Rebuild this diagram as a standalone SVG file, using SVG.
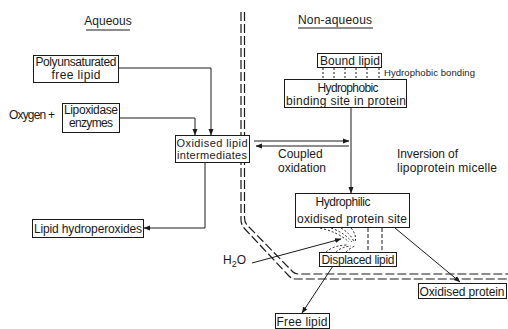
<svg xmlns="http://www.w3.org/2000/svg" width="508" height="329" viewBox="0 0 508 329">
<defs>
<marker id="ah" markerUnits="userSpaceOnUse" markerWidth="7" markerHeight="6" refX="6" refY="3" orient="auto">
<path d="M0,0.5 L6.5,3 L0,5.5 z" fill="#1a1a1a"/>
</marker>
<style>
text{font-family:"Liberation Sans",Arial,sans-serif;font-size:12px;fill:#1a1a1a}
.s{font-size:9.5px}
.t{font-size:11px}
.c{text-anchor:middle}
.box{fill:#fff;stroke:#1a1a1a;stroke-width:1}
.ln{fill:none;stroke:#1a1a1a;stroke-width:1}
.ar{fill:none;stroke:#1a1a1a;stroke-width:1;marker-end:url(#ah)}
.dd{fill:none;stroke:#1a1a1a;stroke-width:1.2;stroke-dasharray:9 3}
.dt{fill:none;stroke:#1a1a1a;stroke-width:1;stroke-dasharray:2 2}
.dh{fill:none;stroke:#1a1a1a;stroke-width:1;stroke-dasharray:4 2}
</style>
</defs>
<rect width="508" height="329" fill="#fff"/>

<g id="interface">
<path class="dd" d="M241,12 L241,220 Q241,224 244,228 L289,276 Q292,279 296,279 L508,279"/>
<path class="dd" d="M244.5,12 L244.5,218 Q244.5,222 247,225 L293,272 Q295,274 299,274 L508,274"/>
</g>

<g id="headings">
<text x="108" y="25" class="c">Aqueous</text>
<line class="ln" x1="86" y1="30" x2="130" y2="30"/>
<text x="335" y="24" class="c" textLength="74">Non-aqueous</text>
<line class="ln" x1="298" y1="28" x2="373" y2="28"/>
</g>

<g id="connectors">
<path class="ar" d="M119,68 L211,68 L211,135"/>
<path class="ar" d="M120,118 L195,118 L195,135"/>
<path class="ar" d="M205,162 L205,228 L144,228"/>
<path class="ar" d="M254,141 L349,141"/>
<path class="ar" d="M349,146 L256,146"/>
<path class="ar" d="M351,108 L351,193"/>
<path class="ar" d="M252,263 L341,239"/>
<path class="ar" d="M395,228 L460,282"/>
<path class="ar" d="M333,266 L302,313"/>
<g id="hydrophobic-bonding">
<path class="dt" d="M323,68 V79 M334,68 V79 M345,68 V79 M356,68 V79 M367,68 V79 M379,68 V79"/>
</g>
<g id="displacement">
<path class="dh" d="M368,228 V252 M382,228 V252"/>
<path class="dt" d="M320,228 Q338,232 349,242 M331,228 Q345,233 352,242 M341,228 Q351,234 354,242 M351,228 Q357,235 355,242"/>
<path class="dt" d="M326,252 Q334,245 348,245 M336,252 Q341,247 351,246 M346,252 Q350,248 355,246"/>
</g>
</g>

<g id="polyunsaturated">
<rect class="box" x="33.5" y="55.5" width="85" height="27"/>
<text x="76" y="66" class="c" textLength="81">Polyunsaturated</text>
<text x="76" y="79" class="c" textLength="49">free lipid</text>
</g>

<g id="oxygen">
<text x="9" y="119" textLength="46">Oxygen +</text>
</g>

<g id="lipoxidase">
<rect class="box" x="62.5" y="103.5" width="57" height="29"/>
<text x="91" y="114" class="c" textLength="54">Lipoxidase</text>
<text x="91" y="127" class="c" textLength="44">enzymes</text>
</g>

<g id="oxidised-lipid">
<rect class="box" x="175.5" y="135.5" width="74" height="27"/>
<text x="212" y="146.5" class="c t" textLength="71">Oxidised lipid</text>
<text x="212" y="159" class="c t" textLength="70">intermediates</text>
</g>

<g id="lipid-hydroperoxides">
<rect class="box" x="32.5" y="219.5" width="111" height="18"/>
<text x="88" y="233" class="c" textLength="108">Lipid hydroperoxides</text>
</g>

<g id="coupled-oxidation">
<text x="278" y="158">Coupled</text>
<text x="278" y="172" textLength="48">oxidation</text>
</g>

<g id="inversion">
<text x="397" y="158" textLength="61">Inversion of</text>
<text x="397" y="172" textLength="100">lipoprotein micelle</text>
</g>

<g id="bound-lipid">
<rect class="box" x="317.5" y="53.5" width="64" height="14"/>
<text x="350" y="65" class="c" textLength="60">Bound lipid</text>
<text x="384" y="76" class="s" textLength="91">Hydrophobic bonding</text>
</g>

<g id="hydrophobic-site">
<rect class="box" x="284.5" y="79.5" width="122" height="28"/>
<text x="348" y="92" class="c" textLength="61">Hydrophobic</text>
<text x="346" y="104.5" class="c" textLength="120">binding site in protein</text>
</g>

<g id="hydrophilic-site">
<rect class="box" x="295.5" y="193.5" width="114" height="34"/>
<text x="343" y="206" class="c" textLength="55">Hydrophilic</text>
<text x="352" y="223" class="c" textLength="110">oxidised protein site</text>
</g>

<g id="h2o">
<text x="223" y="264">H<tspan dy="3" font-size="9">2</tspan><tspan dy="-3">O</tspan></text>
</g>

<g id="displaced-lipid">
<rect class="box" x="319.5" y="252.5" width="77" height="14"/>
<text x="358" y="263.5" class="c" textLength="73">Displaced lipid</text>
</g>

<g id="oxidised-protein">
<rect class="box" x="418.5" y="283.5" width="88" height="15"/>
<text x="462" y="295.5" class="c" textLength="85">Oxidised protein</text>
</g>

<g id="free-lipid">
<rect class="box" x="275.5" y="313.5" width="54" height="15"/>
<text x="302" y="325.5" class="c" textLength="51">Free lipid</text>
</g>
</svg>
